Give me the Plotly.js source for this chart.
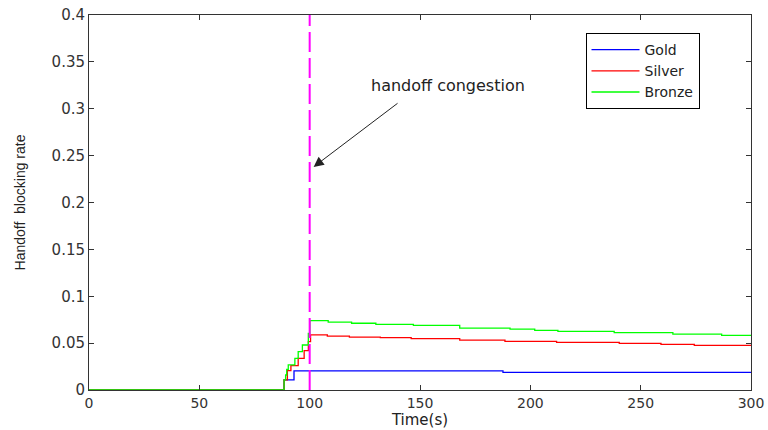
<!DOCTYPE html>
<html>
<head>
<meta charset="utf-8">
<script src="https://cdn.plot.ly/plotly-3.0.1.min.js"></script>
<style>html,body{margin:0;padding:0;background:#fff;}#chart{width:768px;height:430px;}</style>
</head>
<body>
<div id="chart"></div>
<script>
// Step-series data (time in s, blocking rate)
var goldT   = [0, 88.4, 92.9, 187.6, 300];
var goldV   = [0, 0.0107, 0.0203, 0.0189, 0.0189];

var silverT = [0, 88.4, 89.9, 91.5, 94.8, 97.5, 99.4, 100.4, 108, 118, 132, 146, 168, 188.5, 211.9, 240.3, 259.2, 274.3, 300];
var silverV = [0, 0.0107, 0.0206, 0.026, 0.0338, 0.042, 0.0516, 0.0587, 0.0575, 0.0565, 0.0558, 0.0548, 0.0533, 0.0519, 0.0508, 0.0498, 0.0487, 0.0476, 0.0476];

var bronzeT = [0, 88.4, 89.1, 89.6, 90.3, 93.3, 94.8, 96.7, 99.4, 100.1, 108.4, 119, 130, 147, 168, 190.8, 202, 212.5, 238, 264.6, 286.7, 300];
var bronzeV = [0, 0.0107, 0.016, 0.022, 0.0267, 0.0338, 0.0409, 0.048, 0.0604, 0.0739, 0.0725, 0.0712, 0.070, 0.069, 0.0661, 0.065, 0.0637, 0.0626, 0.0612, 0.0597, 0.0583, 0.0583];

var seriesNames = ['Gold', 'Silver', 'Bronze'];
var congestionTime = 100;
var annotationText = 'handoff congestion';
var xTitle = 'Time(s)';
var yTitle = 'Handoff  blocking rate';

var fontFam = 'DejaVu Sans, sans-serif';
var yFontFam = 'Liberation Sans, Arial, sans-serif';

var traces = [
  {x: goldT, y: goldV, name: seriesNames[0], mode: 'lines', line: {color: '#0000ff', width: 1.3, shape: 'hv'}},
  {x: silverT, y: silverV, name: seriesNames[1], mode: 'lines', line: {color: '#ff0000', width: 1.3, shape: 'hv'}},
  {x: bronzeT, y: bronzeV, name: seriesNames[2], mode: 'lines', line: {color: '#00ff00', width: 1.3, shape: 'hv'}}
];

var layout = {
  width: 768, height: 430,
  margin: {l: 89, r: 17, t: 15, b: 40},
  paper_bgcolor: '#fff', plot_bgcolor: '#fff',
  font: {family: fontFam, size: 14, color: '#222'},
  showlegend: true,
  legend: {x: 0.75, y: 0.952, xanchor: 'left', yanchor: 'top', bgcolor: '#fff',
           bordercolor: '#000', borderwidth: 1, font: {family: fontFam, size: 14, color: '#222'},
           tracegroupgap: 0, itemwidth: 48},
  xaxis: {range: [0, 300], dtick: 50, showgrid: false, zeroline: false,
          showline: true, linecolor: '#333', linewidth: 1, mirror: 'ticks',
          ticks: 'inside', ticklen: 5, tickcolor: '#333',
          tickfont: {family: fontFam, size: 14, color: '#333'},
          title: {text: xTitle, font: {family: fontFam, size: 15, color: '#222'}, standoff: 0}},
  yaxis: {range: [0, 0.4], dtick: 0.05, showgrid: false, zeroline: false,
          showline: true, linecolor: '#333', linewidth: 1, mirror: 'ticks',
          ticks: 'inside', ticklen: 5, tickcolor: '#333',
          tickfont: {family: fontFam, size: 15, color: '#333'},
          title: {text: yTitle, font: {family: yFontFam, size: 14, color: '#222'}, standoff: 22}},
  shapes: [
    {type: 'line', xref: 'x', yref: 'paper', x0: congestionTime, x1: congestionTime, y0: 0, y1: 1,
     line: {color: '#ff00ff', width: 2, dash: '20px,6px'}}
  ],
  annotations: [
    {xref: 'x', yref: 'y', x: 101.8, y: 0.238, axref: 'x', ayref: 'y', ax: 140.5, ay: 0.307,
     text: '', showarrow: true, arrowhead: 2, arrowsize: 2, arrowwidth: 1, arrowcolor: '#222'},
    {xref: 'x', yref: 'y', x: 162.7, y: 0.325, text: annotationText, showarrow: false,
     font: {family: fontFam, size: 16, color: '#222'}}
  ]
};

Plotly.newPlot('chart', traces, layout, {displayModeBar: false, staticPlot: true});
</script>
</body>
</html>
